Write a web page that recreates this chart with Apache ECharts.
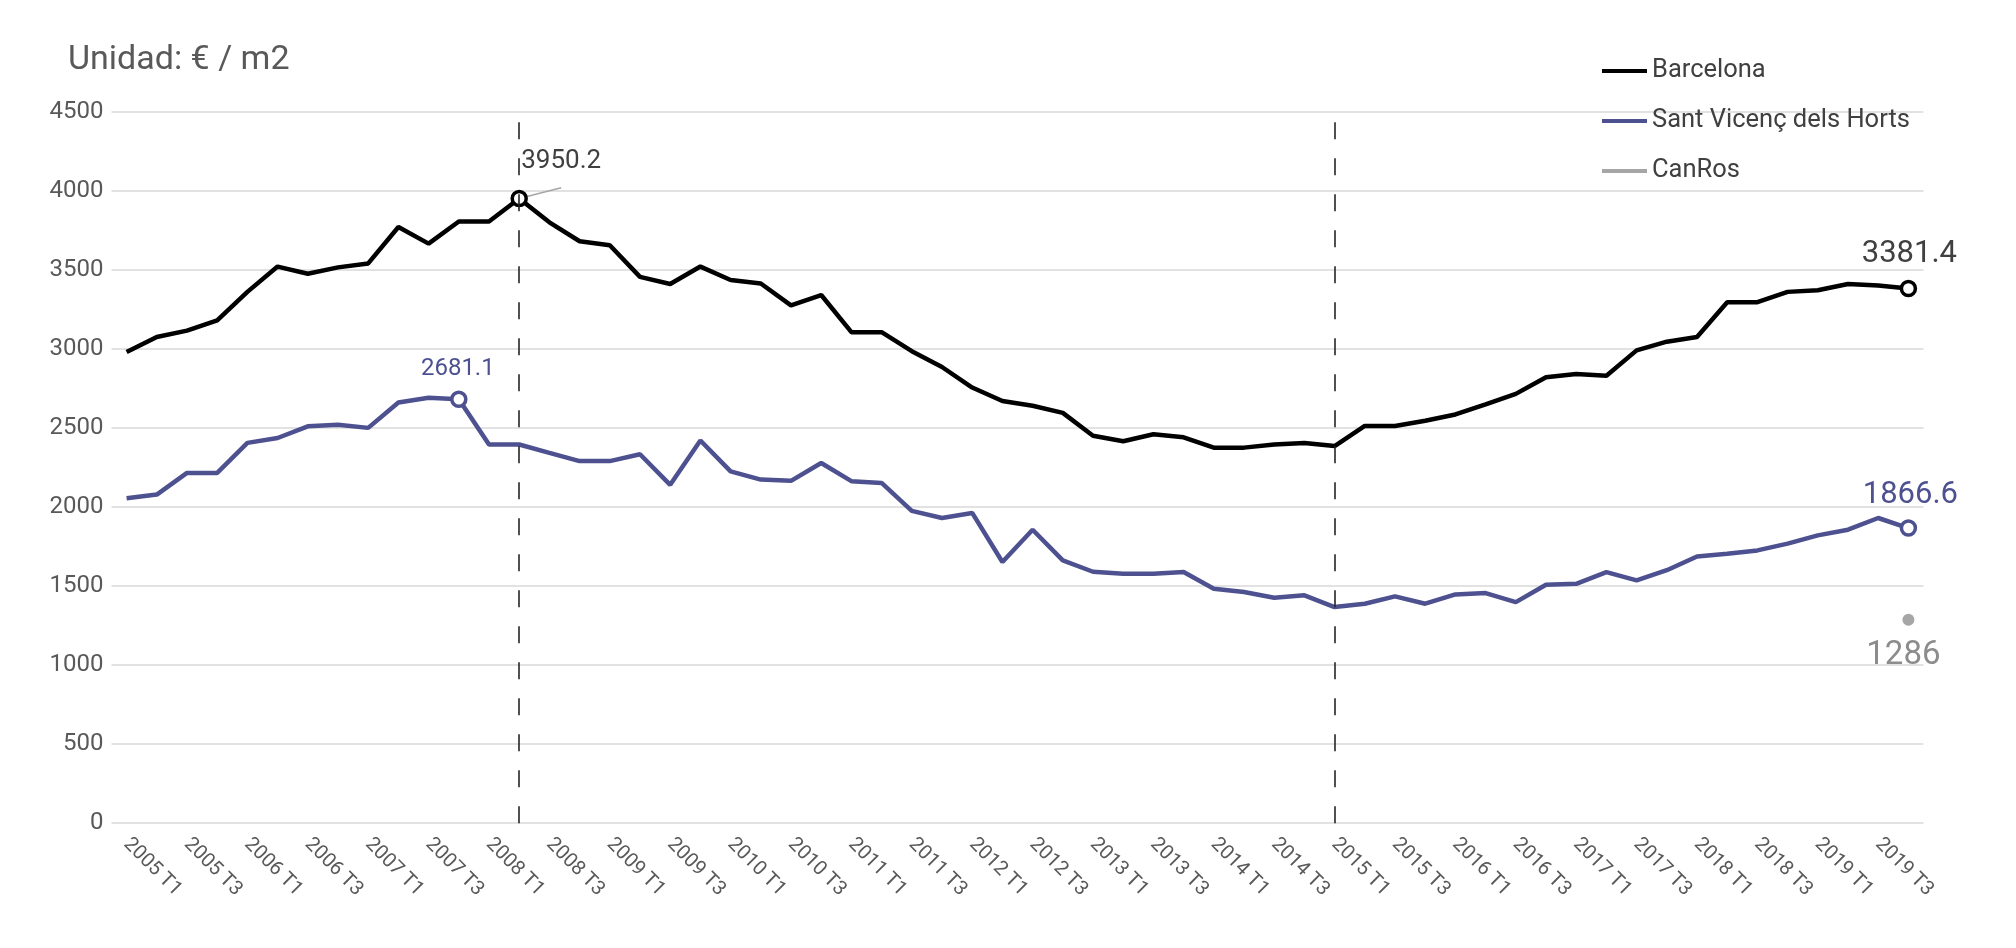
<!DOCTYPE html>
<html>
<head>
<meta charset="utf-8">
<script src="https://cdn.jsdelivr.net/npm/echarts@6/dist/echarts.min.js"></script>
<style>
html,body{margin:0;padding:0;background:#ffffff;}
#chart{width:2016px;height:948px;}
</style>
</head>
<body>
<div id="chart"></div>
<script>
// ---- data ----
const categories = [
  '2005 T1','2005 T2','2005 T3','2005 T4','2006 T1','2006 T2','2006 T3','2006 T4',
  '2007 T1','2007 T2','2007 T3','2007 T4','2008 T1','2008 T2','2008 T3','2008 T4',
  '2009 T1','2009 T2','2009 T3','2009 T4','2010 T1','2010 T2','2010 T3','2010 T4',
  '2011 T1','2011 T2','2011 T3','2011 T4','2012 T1','2012 T2','2012 T3','2012 T4',
  '2013 T1','2013 T2','2013 T3','2013 T4','2014 T1','2014 T2','2014 T3','2014 T4',
  '2015 T1','2015 T2','2015 T3','2015 T4','2016 T1','2016 T2','2016 T3','2016 T4',
  '2017 T1','2017 T2','2017 T3','2017 T4','2018 T1','2018 T2','2018 T3','2018 T4',
  '2019 T1','2019 T2','2019 T3','2019 T4'
];
const barcelona = [
  2980, 3075, 3115, 3180, 3360, 3520, 3475, 3515, 3540, 3770,
  3665, 3805, 3805, 3950.2, 3800, 3680, 3655, 3455, 3410, 3520,
  3435, 3413, 3275, 3340, 3105, 3105, 2985, 2885, 2755, 2670,
  2640, 2595, 2450, 2415, 2460, 2440, 2375, 2375, 2395, 2405,
  2385, 2512, 2512, 2545, 2585, 2648, 2715, 2820, 2840, 2830,
  2990, 3045, 3075, 3295, 3295, 3360, 3370, 3410, 3400, 3381.4
];
const santVicenc = [
  2055, 2078, 2215, 2215, 2405, 2436, 2510, 2520, 2500, 2660,
  2690, 2681.1, 2395, 2395, 2342, 2290, 2290, 2333, 2140, 2420,
  2225, 2173, 2165, 2278, 2163, 2152, 1975, 1930, 1962, 1652,
  1856, 1662, 1590, 1578, 1578, 1588, 1483, 1462, 1426, 1441,
  1367, 1388, 1434, 1388, 1447, 1455, 1398, 1508, 1514, 1588,
  1536, 1600, 1687, 1704, 1725, 1768, 1820, 1856, 1930, 1866.6
];
const canRos = [['2019 T4', 1286]];
const yTicks = [0, 500, 1000, 1500, 2000, 2500, 3000, 3500, 4000, 4500];
const dashedAt = ['2008 T2', '2015 T1'];
const markedBarcelona = [13, 59];
const markedSant = [11, 59];
const seriesNames = ['Barcelona', 'Sant Vicenç dels Horts', 'CanRos'];

// ---- style ----
const FONT = 'Roboto';
const FW = 'normal';
const C_BCN = '#000000';
const C_SVH = '#4d5190';
const C_CR = '#a6a6a6';
const TXT = '#595959';

const labelStyles = {
  bcn: {
    13: {fontSize: 26, color: '#404040', offset: [42, -10], labelLine: true},
    59: {fontSize: 31, color: '#404040', offset: [1, -5]}
  },
  svh: {
    11: {fontSize: 24, color: C_SVH, offset: [-1, -4]},
    59: {fontSize: 31, color: C_SVH, offset: [2, -4]}
  }
};

function buildData(values, marked, color, styles) {
  return values.map((v, i) => {
    if (marked.indexOf(i) < 0) return v;
    const s = styles[i];
    const item = {
      value: v,
      symbol: 'circle',
      symbolSize: 14,
      itemStyle: {color: '#ffffff', borderColor: color, borderWidth: 3.5},
      label: {
        show: true, position: 'top', offset: s.offset,
        fontFamily: FONT, fontWeight: FW, fontSize: s.fontSize, color: s.color,
        formatter: (p) => String(p.value)
      }
    };
    if (s.labelLine) {
      item.labelLine = {show: true, lineStyle: {color: '#a6a6a6', width: 1.5}};
    }
    return item;
  });
}

const chart = echarts.init(document.getElementById('chart'), null, {renderer: 'canvas'});
chart.setOption({
  backgroundColor: '#ffffff',
  animation: false,
  title: {
    text: 'Unidad: € / m2',
    left: 68, top: 43, padding: 0,
    textStyle: {fontFamily: FONT, fontWeight: FW, fontSize: 34, color: TXT}
  },
  legend: {
    orient: 'vertical',
    left: 1602, top: 57, padding: 0,
    itemGap: 22,
    itemWidth: 45, itemHeight: 4,
    icon: 'rect',
    textStyle: {fontFamily: FONT, fontWeight: FW, fontSize: 25.5, color: '#404040', lineHeight: 28},
    data: [
      {name: seriesNames[0], itemStyle: {color: C_BCN}},
      {name: seriesNames[1], itemStyle: {color: C_SVH}},
      {name: seriesNames[2], itemStyle: {color: C_CR}}
    ]
  },
  grid: {left: 111.5, right: 92.5, top: 111.6, bottom: 124.8, containLabel: false},
  xAxis: {
    type: 'category',
    data: categories,
    boundaryGap: true,
    axisLine: {show: false},
    axisTick: {show: false},
    axisLabel: {
      interval: 1, rotate: -45, margin: 18,
      fontFamily: FONT, fontWeight: FW, fontSize: 20, color: TXT
    },
    splitLine: {show: false}
  },
  yAxis: {
    type: 'value',
    min: yTicks[0], max: yTicks[yTicks.length - 1], interval: 500,
    axisLine: {show: false},
    axisTick: {show: false},
    axisLabel: {
      margin: 8, fontFamily: FONT, fontWeight: FW, fontSize: 24, color: TXT,
      formatter: (v) => String(v)
    },
    splitLine: {lineStyle: {color: '#d9d9d9', width: 1.7}}
  },
  series: [
    {
      name: seriesNames[0], type: 'line',
      data: buildData(barcelona, markedBarcelona, C_BCN, labelStyles.bcn),
      symbol: 'none', showSymbol: true, showAllSymbol: true,
      lineStyle: {color: C_BCN, width: 4.5},
      itemStyle: {color: C_BCN},
      z: 3,
      markLine: {
        silent: true,
        symbol: ['none', 'none'],
        label: {show: false},
        lineStyle: {color: '#262626', type: [17, 19], width: 1.6},
        data: dashedAt.map(c => ({xAxis: c}))
      }
    },
    {
      name: seriesNames[1], type: 'line',
      data: buildData(santVicenc, markedSant, C_SVH, labelStyles.svh),
      symbol: 'none', showSymbol: true, showAllSymbol: true,
      lineStyle: {color: C_SVH, width: 4.5},
      itemStyle: {color: C_SVH},
      z: 3
    },
    {
      name: seriesNames[2], type: 'line',
      data: canRos,
      symbol: 'circle', symbolSize: 12, showSymbol: true, showAllSymbol: true,
      itemStyle: {color: C_CR},
      lineStyle: {color: C_CR, width: 4.5},
      label: {
        show: true, position: 'bottom', offset: [-5, 8],
        fontFamily: FONT, fontWeight: FW, fontSize: 33, color: '#8c8c8c',
        formatter: (p) => String(p.value[1])
      },
      z: 3
    }
  ]
});
</script>
</body>
</html>
